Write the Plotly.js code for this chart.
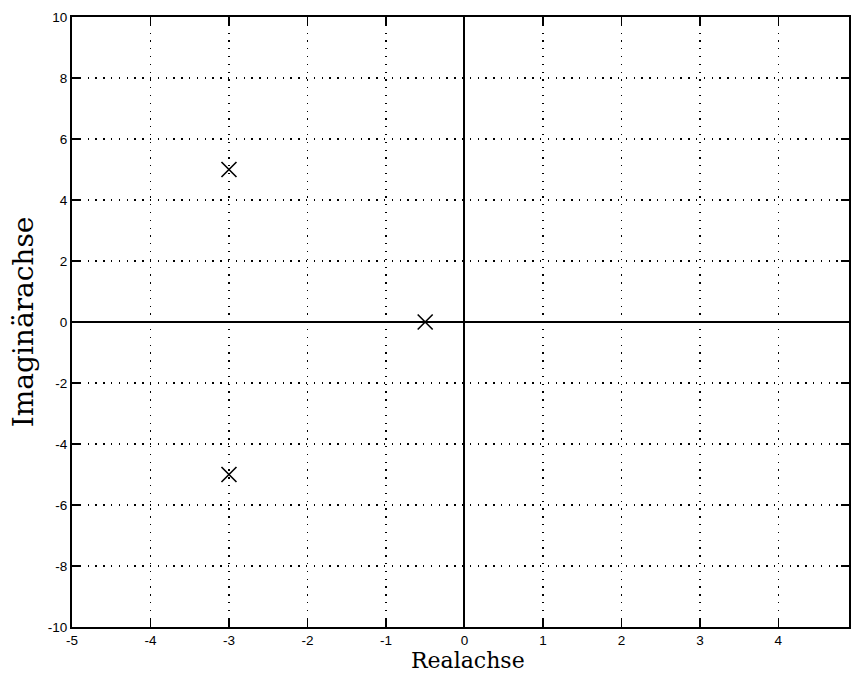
<!DOCTYPE html>
<html>
<head>
<meta charset="utf-8">
<script src="https://cdn.plot.ly/plotly-3.0.1.min.js"></script>
<style>html,body{margin:0;padding:0;background:#fff;}#plot{width:853px;height:675px;}</style>
</head>
<body>
<div id="plot"></div>
<script>
const poleReal = [-3, -3, -0.5];
const poleImag = [5, -5, 0];
const xTicks = [-5, -4, -3, -2, -1, 0, 1, 2, 3, 4];
const yTicks = [-10, -8, -6, -4, -2, 0, 2, 4, 6, 8, 10];
const xLabel = 'Realachse';
const yLabel = 'Imaginärachse';

const trace = {
  x: poleReal, y: poleImag, type: 'scatter', mode: 'markers',
  marker: {symbol: 'x-thin', size: 15, line: {color: 'black', width: 1.6}, color: 'black'},
  hoverinfo: 'skip'
};

const axisCommon = {
  showline: true, linecolor: 'black', linewidth: 2, mirror: 'ticks',
  ticks: 'inside', ticklen: 8, tickwidth: 1.5, tickcolor: 'black',
  showgrid: true, gridcolor: 'black', gridwidth: 1.3, griddash: '1.3px,6.5px',
  zeroline: true, zerolinecolor: 'black', zerolinewidth: 2,
  tickfont: {family: 'Liberation Sans, Arial, sans-serif', size: 13.5, color: 'black'}
};

const layout = {
  width: 853, height: 675,
  margin: {l: 72, r: 4, t: 17, b: 48},
  paper_bgcolor: 'white', plot_bgcolor: 'white',
  showlegend: false,
  xaxis: Object.assign({}, axisCommon, {
    range: [-5, 4.9], tickvals: xTicks, ticktext: xTicks.map(String)
  }),
  yaxis: Object.assign({}, axisCommon, {
    range: [-10, 10], tickvals: yTicks, ticktext: yTicks.map(String),
    title: {text: yLabel, font: {family: 'DejaVu Serif, Liberation Serif, serif', size: 28, color: 'black'}, standoff: 6}
  }),
  annotations: [{
    text: xLabel, xref: 'paper', yref: 'paper', x: 0.51, y: 0,
    xanchor: 'center', yanchor: 'top', yshift: -20, showarrow: false, borderpad: 0,
    font: {family: 'DejaVu Serif, Liberation Serif, serif', size: 22, color: 'black'}
  }]
};

Plotly.newPlot('plot', [trace], layout, {staticPlot: true, displayModeBar: false});
</script>
</body>
</html>
